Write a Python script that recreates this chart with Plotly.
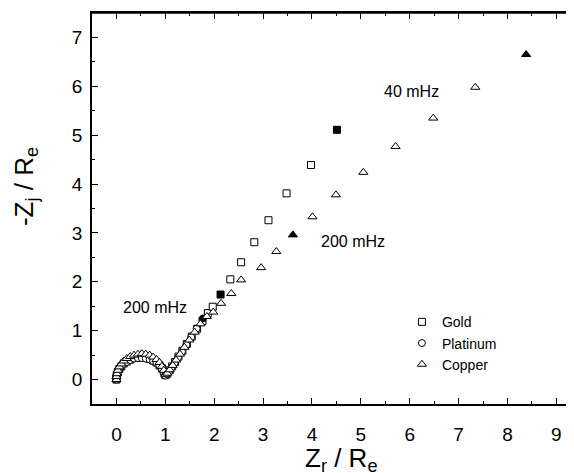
import plotly.graph_objects as go

# ---- data ----
gold_zr = [0.0, 0.0, 0.01, 0.03, 0.06, 0.10, 0.15, 0.21, 0.28, 0.36, 0.44, 0.52, 0.60, 0.68, 0.75,
           0.82, 0.88, 0.93, 0.97, 1.00, 1.04, 1.09, 1.14, 1.20, 1.27, 1.35, 1.44, 1.54, 1.65,
           1.76, 1.87, 1.97, 2.13, 2.33, 2.55, 2.82, 3.11, 3.48, 3.98, 4.51]
gold_zj = [0.0, 0.05, 0.10, 0.16, 0.22, 0.27, 0.33, 0.37, 0.41, 0.44, 0.45, 0.45, 0.44, 0.42, 0.39,
           0.35, 0.29, 0.23, 0.16, 0.09, 0.12, 0.19, 0.27, 0.36, 0.47, 0.59, 0.73, 0.88, 1.04,
           1.20, 1.36, 1.49, 1.74, 2.05, 2.40, 2.81, 3.26, 3.81, 4.39, 5.11]
gold_marked = [32, 39]          # 200 mHz, 40 mHz

plat_zr = [0.0, 0.0, 0.01, 0.03, 0.06, 0.10, 0.15, 0.21, 0.28, 0.36, 0.44, 0.52, 0.60, 0.68, 0.75,
           0.82, 0.88, 0.93, 0.97, 1.00, 1.04, 1.08, 1.13, 1.19, 1.26, 1.34, 1.43, 1.53, 1.64, 1.77]
plat_zj = [0.0, 0.04, 0.09, 0.15, 0.21, 0.27, 0.32, 0.36, 0.40, 0.43, 0.44, 0.44, 0.43, 0.41, 0.38,
           0.34, 0.28, 0.22, 0.15, 0.08, 0.11, 0.17, 0.25, 0.34, 0.45, 0.57, 0.71, 0.87, 1.04, 1.25]
plat_marked = [29]              # 200 mHz

copper_zr = [0.0, 0.0, 0.01, 0.03, 0.06, 0.10, 0.15, 0.21, 0.28, 0.36, 0.44, 0.52, 0.60, 0.68, 0.75,
             0.82, 0.88, 0.93, 0.97, 1.00, 1.04, 1.09, 1.15, 1.22, 1.30, 1.39, 1.49, 1.60, 1.72,
             1.85, 1.98, 2.14, 2.35, 2.55, 2.96, 3.27, 3.61, 4.01, 4.49, 5.05, 5.71, 6.48, 7.34, 8.38]
copper_zj = [0.0, 0.06, 0.12, 0.19, 0.26, 0.32, 0.38, 0.43, 0.47, 0.50, 0.52, 0.53, 0.52, 0.50, 0.46,
             0.41, 0.35, 0.27, 0.19, 0.10, 0.13, 0.20, 0.29, 0.40, 0.52, 0.66, 0.81, 0.97, 1.14,
             1.29, 1.38, 1.56, 1.76, 2.04, 2.29, 2.62, 2.96, 3.33, 3.78, 4.24, 4.77, 5.35, 5.98, 6.65]
copper_marked = [36, 43]        # 200 mHz, 40 mHz

series = [("Gold", gold_zr, gold_zj, gold_marked, "square", 7),
          ("Platinum", plat_zr, plat_zj, plat_marked, "circle", 7),
          ("Copper", copper_zr, copper_zj, copper_marked, "triangle-up", 8)]

labels = [("200 mHz", 0.78, 1.47), ("200 mHz", 4.83, 2.82), ("40 mHz", 6.03, 5.90)]

x_title = "Z<sub>r</sub> / R<sub>e</sub>"
y_title = "-Z<sub>j</sub> / R<sub>e</sub>"

x_ticks = list(range(0, 10))
y_ticks = list(range(0, 8))

FONT = "Liberation Sans, Arial, sans-serif"

fig = go.Figure()
for name, xs, ys, marked, sym, size in series:
    colors = ["black" if i in marked else "white" for i in range(len(xs))]
    fig.add_trace(go.Scatter(
        x=xs, y=ys, mode="markers", name=name,
        marker=dict(symbol=sym, size=size, color=colors,
                    line=dict(color="black", width=1)),
    ))

for text, x, y in labels:
    fig.add_annotation(x=x, y=y, text=text, showarrow=False,
                       font=dict(family=FONT, size=16, color="black"))

# axis titles placed as annotations
fig.add_annotation(xref="paper", yref="paper", x=-0.138, y=0.556,
                   xanchor="center", yanchor="middle", textangle=-90, showarrow=False,
                   text=y_title, font=dict(family=FONT, size=26, color="black"))
fig.add_annotation(xref="paper", yref="paper", x=0.517, y=-0.141,
                   xanchor="center", yanchor="middle", showarrow=False,
                   text=x_title, font=dict(family=FONT, size=26, color="black"))

# frame top line
fig.add_shape(type="line", xref="paper", yref="paper", x0=0, x1=1, y0=1, y1=1,
              line=dict(color="black", width=1.5))

axis_common = dict(
    showgrid=False, zeroline=False, showline=True, linecolor="black", linewidth=1.5,
    ticks="inside", ticklen=6, tickwidth=1, tickcolor="black",
    tickfont=dict(family=FONT, size=19, color="black"),
    minor=dict(ticks="inside", ticklen=3, tickwidth=1, tickcolor="black", dtick=0.5),
)

fig.update_xaxes(range=[-0.5, 9.36], tickvals=x_ticks, mirror="ticks", ticklabelstandoff=12,
                 **axis_common)
fig.update_yaxes(range=[-0.5, 7.5], tickvals=y_ticks, mirror=False, ticklabelstandoff=4,
                 **axis_common)

# the page body has an 8px margin, so the figure is offset by 8px
fig.update_layout(
    width=566, height=465,
    margin=dict(l=84, r=0, t=5, b=69, autoexpand=False),
    paper_bgcolor="white", plot_bgcolor="white",
    showlegend=True,
    legend=dict(x=0.643, y=0.25, xanchor="left", yanchor="top",
                bgcolor="rgba(0,0,0,0)", tracegroupgap=0,
                font=dict(family=FONT, size=14, color="black")),
)

fig.write_html("out.html")
